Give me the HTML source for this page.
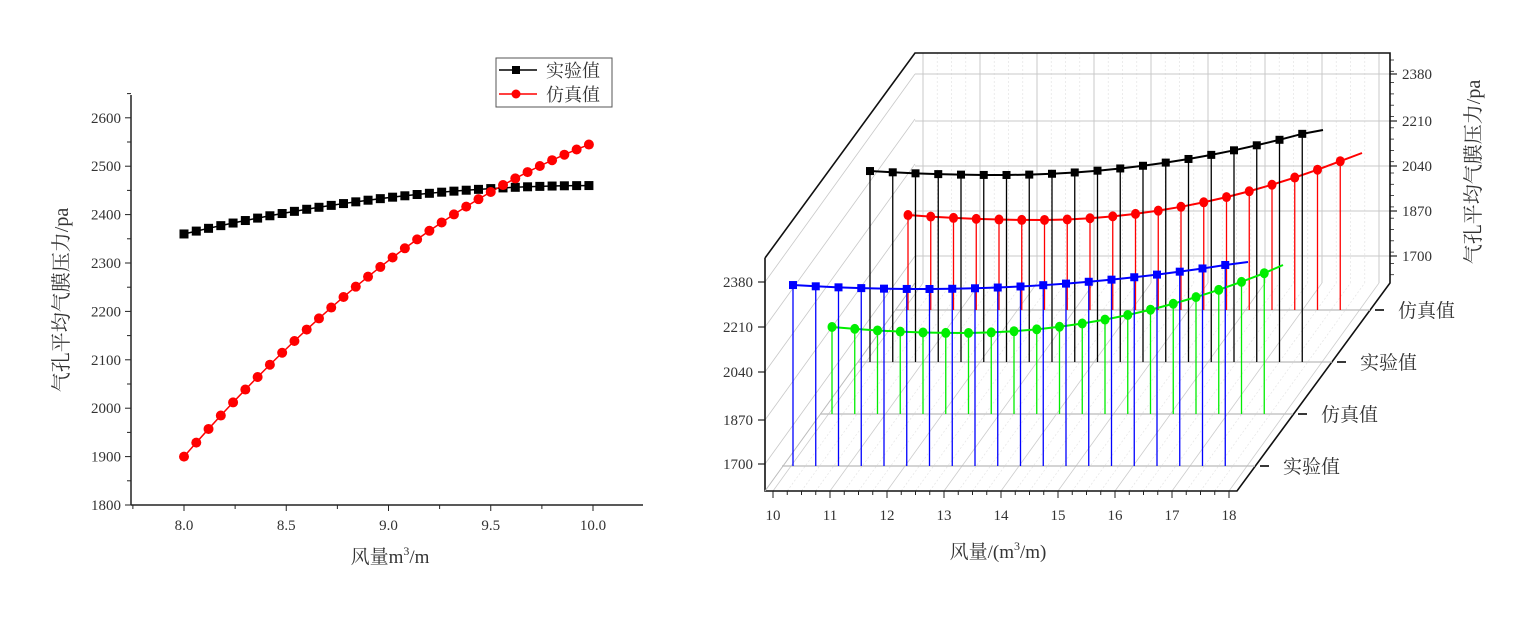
<!DOCTYPE html>
<html><head><meta charset="utf-8"><style>
body{margin:0;background:#fff;}
svg{display:block;font-family:"Liberation Serif","Noto Serif CJK SC",serif;}
</style></head><body>
<svg id="s" width="1536" height="626" viewBox="0 0 1536 626" xmlns="http://www.w3.org/2000/svg">
<rect width="1536" height="626" fill="#fff"/>
<g id="L"></g>
<g id="R"></g>
<text x="390" y="563" font-size="19" text-anchor="middle" fill="#333" font-family="Liberation Serif,Noto Serif CJK SC,serif">风量m<tspan dy="-8" font-size="12">3</tspan><tspan dy="8">/m</tspan></text>
<text transform="translate(68,300) rotate(-90)" font-size="20" text-anchor="middle" fill="#333" font-family="Liberation Serif,Noto Serif CJK SC,serif">气孔平均气膜压力/pa</text>
<rect x="496" y="58" width="116" height="49" fill="#fff" stroke="#555" stroke-width="1"/>
<line x1="499" y1="70" x2="537" y2="70" stroke="#000" stroke-width="1.5"/><rect x="512" y="66" width="8" height="8" fill="#000"/>
<text x="546" y="77" font-size="18" fill="#333" font-family="Noto Serif CJK SC,serif">实验值</text>
<line x1="499" y1="94" x2="537" y2="94" stroke="#f00" stroke-width="1.5"/><circle cx="516" cy="94" r="4.5" fill="#f00"/>
<text x="546" y="101" font-size="18" fill="#333" font-family="Noto Serif CJK SC,serif">仿真值</text>
<text x="998" y="558" font-size="19" text-anchor="middle" fill="#333" font-family="Liberation Serif,Noto Serif CJK SC,serif">风量/(m<tspan dy="-8" font-size="12">3</tspan><tspan dy="8">/m)</tspan></text>
<text transform="translate(1480,172) rotate(-90)" font-size="20" text-anchor="middle" fill="#333" font-family="Liberation Serif,Noto Serif CJK SC,serif">气孔平均气膜压力/pa</text>
</svg>
<script>
const NS="http://www.w3.org/2000/svg";
function el(p,t,a,txt){const e=document.createElementNS(NS,t);for(const k in a)e.setAttribute(k,a[k]);if(txt!==undefined)e.textContent=txt;p.appendChild(e);return e;}
// LEFT
const L=document.getElementById('L');
const X=v=>184+(v-8)*204.5, Y=v=>505-(v-1800)*0.484;
el(L,'line',{x1:131,y1:95,x2:131,y2:505,stroke:'#222','stroke-width':1.5});
el(L,'line',{x1:131,y1:505,x2:643,y2:505,stroke:'#222','stroke-width':1.5});
for(let v=1800;v<=2650;v+=50){const y=Y(v);el(L,'line',{x1:131,y1:y,x2:v%100?127:125,y2:y,stroke:'#222','stroke-width':1});
 if(v%100==0)el(L,'text',{x:121,y:y+5,'font-size':15,'text-anchor':'end',fill:'#333'},v);}
for(let i=0;i<=9;i++){const v=7.75+i*0.25;const x=X(v);el(L,'line',{x1:x,y1:505,x2:x,y2:i%2?511:509,stroke:'#222','stroke-width':1});
 if(i%2==1)el(L,'text',{x:x,y:530,'font-size':15,'text-anchor':'middle',fill:'#333'},v.toFixed(1));}
let pb=[],pr=[];
for(let i=0;i<34;i++){const v=8+i*0.06,t=(v-8)/2;const b=2360+100*(1-(1-t)*(1-t));const r=1900+648*(1.5*t-0.5*t*t);pb.push([X(v),Y(b)]);pr.push([X(v),Y(r)]);}
el(L,'polyline',{points:pb.map(p=>p.join(',')).join(' '),fill:'none',stroke:'#000','stroke-width':1.5});
el(L,'polyline',{points:pr.map(p=>p.join(',')).join(' '),fill:'none',stroke:'#f00','stroke-width':1.5});
pb.forEach(p=>el(L,'rect',{x:p[0]-4.5,y:p[1]-4.5,width:9,height:9,fill:'#000'}));
pr.forEach(p=>el(L,'circle',{cx:p[0],cy:p[1],r:5,fill:'#f00'}));
// RIGHT
const R=document.getElementById('R');
const g='#c8c8c8';
for(let k=0;k<=8;k++){const x=773+57*k;
 el(R,'line',{x1:x,y1:491,x2:x+150,y2:283,stroke:'#ccc','stroke-width':0.8});
 el(R,'line',{x1:x+150,y1:53,x2:x+150,y2:283,stroke:g,'stroke-width':1});
 if(k<8)for(let m=1;m<4;m++){const xm=x+m*14.25;el(R,'line',{x1:xm,y1:491,x2:xm+150,y2:283,stroke:'#e4e4e4','stroke-width':0.7,'stroke-dasharray':'2,2'});el(R,'line',{x1:xm+150,y1:53,x2:xm+150,y2:283,stroke:'#e4e4e4','stroke-width':0.7,'stroke-dasharray':'2,2'});}
}
const fy=[282,327,372,420,464], by=[74,121,166,211,256];
for(let i=0;i<5;i++){
 el(R,'line',{x1:765,y1:fy[i],x2:915,y2:fy[i]-208,stroke:g,'stroke-width':0.8});
 el(R,'line',{x1:915,y1:by[i],x2:1390,y2:by[i],stroke:g,'stroke-width':1});
 el(R,'line',{x1:758,y1:fy[i],x2:765,y2:fy[i],stroke:'#222','stroke-width':1.2});
 el(R,'text',{x:753,y:fy[i]+5,'font-size':15,'text-anchor':'end',fill:'#333'},[2380,2210,2040,1870,1700][i]);
 el(R,'line',{x1:1390,y1:by[i],x2:1397,y2:by[i],stroke:'#222','stroke-width':1.2});
 el(R,'text',{x:1402,y:by[i]+5,'font-size':15,fill:'#333'},[2380,2210,2040,1870,1700][i]);
}
for(let y=60;y<283;y+=11.3)el(R,'line',{x1:1390,y1:y,x2:1394,y2:y,stroke:'#222','stroke-width':0.8});
el(R,'polyline',{points:'765,258 915,53 1390,53 1390,283 1237,491 765,491 765,258',fill:'none',stroke:'#111','stroke-width':1.6});
el(R,'line',{x1:765,y1:491,x2:915,y2:283,stroke:'#bbb','stroke-width':1});
for(let k=0;k<=8;k++){const x=773+57*k;el(R,'line',{x1:x,y1:491,x2:x,y2:498,stroke:'#222'});
 for(let m=1;m<4&&k<8;m++)el(R,'line',{x1:x+m*14.25,y1:491,x2:x+m*14.25,y2:495,stroke:'#222'});
 el(R,'text',{x:x,y:520,'font-size':15,'text-anchor':'middle',fill:'#333'},10+k);}
const cats=[[1255,466,'实验值'],[1293,414,'仿真值'],[1332,362,'实验值'],[1370,310,'仿真值']];
cats.forEach(c=>{el(R,'line',{x1:c[0]+5,y1:c[1],x2:c[0]+14,y2:c[1],stroke:'#222','stroke-width':1.8});
 el(R,'text',{x:c[0]+28,y:c[1]+7,'font-size':19,fill:'#333','font-family':'Noto Serif CJK SC,serif'},c[2]);});
const S=[
 {x0:908,base:310,lx:895,rx:1370,y0:215,ym:220,y1:161,k1:55,k2:120,c:'#f00',sq:0,ext:[1362,153]},
 {x0:870,base:362,lx:858,rx:1332,y0:171,ym:175,y1:134,k1:44,k2:84,c:'#000',sq:1,ext:[1323,130]},
 {x0:832,base:414,lx:820,rx:1293,y0:327,ym:333,y1:273,k1:67,k2:122,c:'#0e0',sq:0,ext:[1283,265]},
 {x0:793,base:466,lx:782,rx:1255,y0:285,ym:289,y1:265,k1:44,k2:49,c:'#00f',sq:1,ext:[1248,262]}];
S.forEach(s=>{
 el(R,'line',{x1:s.lx,y1:s.base,x2:s.rx,y2:s.base,stroke:'#bbb','stroke-width':1.2});
 let pts=[];for(let i=0;i<20;i++){const t=i/19;const y=t<0.3?s.ym-s.k1*(t-0.3)**2:s.ym-s.k2*(t-0.3)**2;pts.push([s.x0+22.75*i,y]);}
 pts.forEach(p=>el(R,'line',{x1:p[0],y1:p[1],x2:p[0],y2:s.base,stroke:s.c,'stroke-width':1.3}));
 const line=pts.concat([s.ext]);
 el(R,'polyline',{points:line.map(p=>p.join(',')).join(' '),fill:'none',stroke:s.c,'stroke-width':2});
 pts.forEach(p=>{if(s.sq)el(R,'rect',{x:p[0]-4,y:p[1]-4,width:8,height:8,fill:s.c});else el(R,'ellipse',{cx:p[0],cy:p[1],rx:4.5,ry:5,fill:s.c});});
});
</script>
</body></html>
